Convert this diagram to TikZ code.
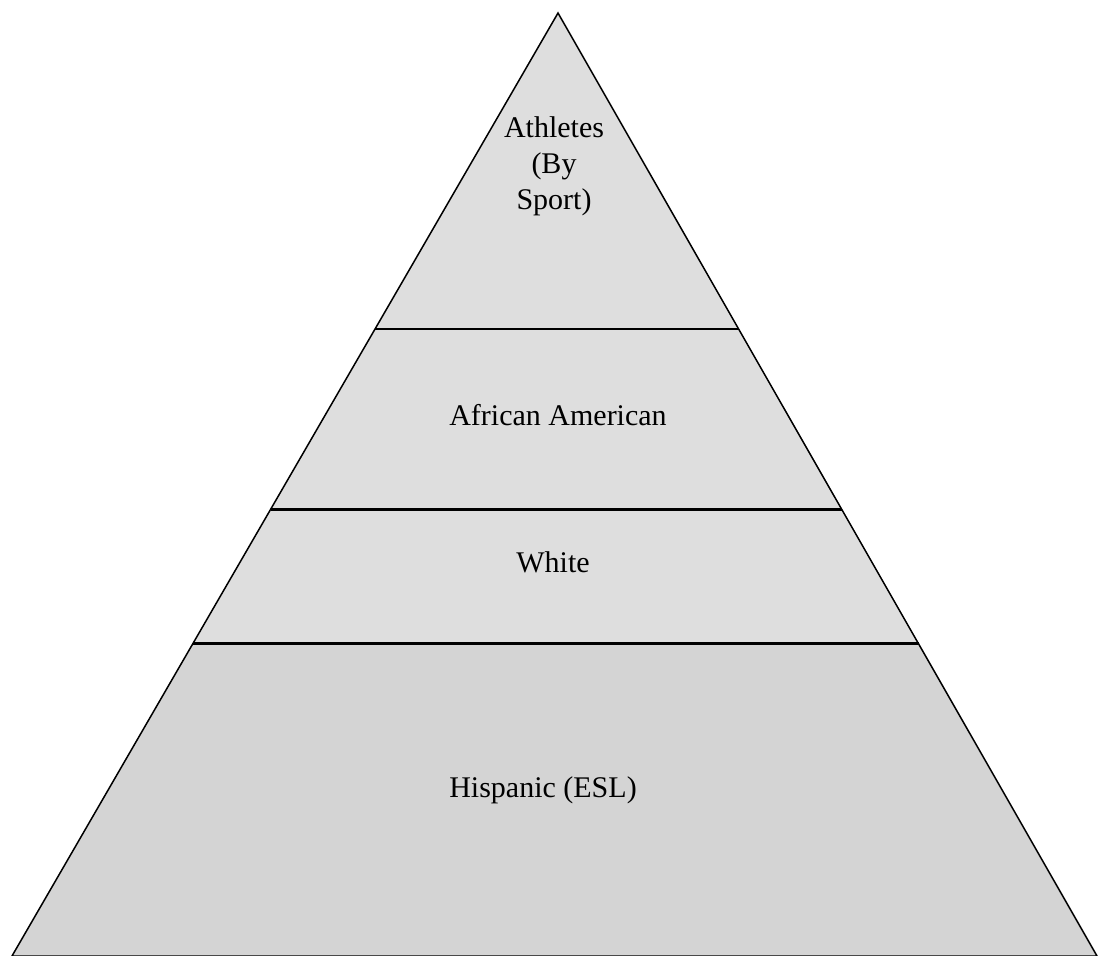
\documentclass[tikz,border=0pt]{standalone}
\usepackage{fontspec}
\setmainfont{Liberation Serif}
\usetikzlibrary{calc}
\tikzset{
  band/.style={fill=black!13, draw=none},
  edge/.style={draw=black, line width=1.5pt, line join=miter},
  divider/.style={draw=black, line width=3pt},
  label/.style={font=\fontsize{30}{36}\selectfont, align=center, inner sep=0pt}
}
\begin{document}
\begin{tikzpicture}[x=1pt,y=-1pt]
\useasboundingbox (0,0) rectangle (1098,956);
\coordinate (A) at (558,13);
\coordinate (L) at (12,956);
\coordinate (R) at (1097,956);
\fill[band] (A) -- (L) -- (R) -- cycle;
\coordinate (l1) at ($(A)!0.3351!(L)$);
\coordinate (r1) at ($(A)!0.3351!(R)$);
\coordinate (l2) at ($(A)!0.526!(L)$);
\coordinate (r2) at ($(A)!0.526!(R)$);
\coordinate (l3) at ($(A)!0.669!(L)$);
\coordinate (r3) at ($(A)!0.669!(R)$);
\fill[black!17] (l3) -- (L) -- (R) -- (r3) -- cycle;
\draw[divider, line width=2pt] (l1) -- (r1);
\draw[divider] (l2) -- (r2);
\draw[divider] (l3) -- (r3);
\draw[edge] (A) -- (L) -- (R) -- cycle;
\node[label] (athletes) at (554,166) {Athletes\\(By\\Sport)};
\node[label] (african) at (558,415) {African American};
\node[label] (white) at (553,562) {White};
\node[label] (hispanic) at (543,790) {Hispanic (ESL)};
\end{tikzpicture}
\end{document}
